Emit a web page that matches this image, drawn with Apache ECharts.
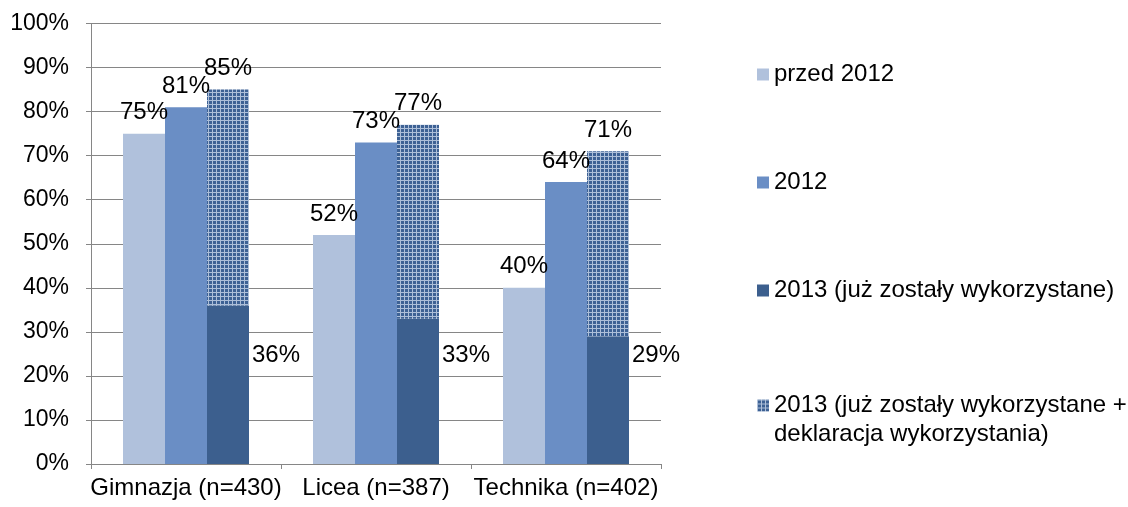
<!DOCTYPE html>
<html>
<head>
<meta charset="utf-8">
<script src="https://cdn.jsdelivr.net/npm/echarts@6/dist/echarts.min.js"></script>
<style>
html,body{margin:0;padding:0;background:#fff;}
#chart{width:1128px;height:507px;}
</style>
</head>
<body>
<div id="chart"></div>
<script>
const categories = ['Gimnazja (n=430)', 'Licea (n=387)', 'Technika (n=402)'];
const seriesNames = ['przed 2012', '2012', '2013 (już zostały wykorzystane)', '2013 (już zostały wykorzystane + deklaracja wykorzystania)'];
const before2012 = [75, 52, 40];
const year2012 = [81, 73, 64];
const used2013 = [36, 33, 29];
const total2013 = [85, 77, 71];

const FONT = '"Liberation Sans", Arial, sans-serif';
const LABEL_LEVEL = 24.7; // value level where the "used" labels sit

function makePattern() {
  const c = document.createElement('canvas');
  c.width = 4; c.height = 4;
  const g = c.getContext('2d');
  g.fillStyle = '#3D6194';
  g.fillRect(0, 0, 4, 4);
  g.fillStyle = '#ADBFD9';
  g.fillRect(0, 0, 4, 1);
  g.fillRect(0, 0, 1, 4);
  return c;
}
const pattern = { image: makePattern(), repeat: 'repeat' };

const chart = echarts.init(document.getElementById('chart'), null, { renderer: 'canvas' });

const topLabel = { show: true, position: 'top', distance: 9, color: '#000', fontSize: 24, fontFamily: FONT, formatter: p => p.value + '%' };

const option = {
  animation: false,
  textStyle: { fontFamily: FONT },
  grid: { left: 91, right: 467, top: 23.5, bottom: 43 },
  legend: [
    {
      orient: 'vertical', left: 757, top: 60, padding: 0, itemGap: 79,
      itemWidth: 12, itemHeight: 12, itemTextGap: 6, icon: 'rect', selectedMode: false,
      textStyle: { color: '#000', fontSize: 24, fontFamily: FONT, lineHeight: 29 },
      data: seriesNames.slice(0, 3)
    },
    {
      orient: 'vertical', left: 757, top: 362, padding: 0,
      itemWidth: 12, itemHeight: 12, itemTextGap: 6, icon: 'rect', selectedMode: false,
      textStyle: { color: '#000', fontSize: 24, fontFamily: FONT, lineHeight: 29 },
      formatter: () => ' \n2013 (już zostały wykorzystane +\ndeklaracja wykorzystania)',
      data: [seriesNames[3]]
    }
  ],
  xAxis: {
    type: 'category', data: categories,
    axisLine: { lineStyle: { color: '#868686', width: 1 } },
    axisTick: { show: true, length: 5, lineStyle: { color: '#868686' } },
    axisLabel: { color: '#000', fontSize: 24, fontFamily: FONT, margin: 12, interval: 0, hideOverlap: false },
    splitLine: { show: false }
  },
  yAxis: {
    type: 'value', min: 0, max: 100, interval: 10,
    axisLine: { show: true, lineStyle: { color: '#868686', width: 1 } },
    axisTick: { show: true, length: 5, lineStyle: { color: '#868686' } },
    axisLabel: { color: '#000', fontSize: 23, fontFamily: FONT, margin: 22, formatter: '{value}%' },
    splitLine: { show: true, lineStyle: { color: '#868686', width: 1 } }
  },
  series: [
    {
      name: seriesNames[0], type: 'bar', data: before2012, barWidth: 42, barGap: 0,
      itemStyle: { color: '#B0C1DC' }, label: topLabel
    },
    {
      name: seriesNames[1], type: 'bar', data: year2012, barWidth: 42, barGap: 0,
      itemStyle: { color: '#6A8EC5' }, label: topLabel
    },
    {
      name: seriesNames[2], type: 'bar', stack: 'y2013', barWidth: 42, barGap: 0,
      itemStyle: { color: '#3C5F8E' },
      data: used2013.map(v => ({
        value: v,
        label: {
          show: true, position: ['100%', ((v - LABEL_LEVEL) / v * 100) + '%'],
          align: 'left', verticalAlign: 'middle', offset: [3, 0],
          color: '#000', fontSize: 24, fontFamily: FONT, formatter: v + '%'
        }
      }))
    },
    {
      name: seriesNames[3], type: 'bar', stack: 'y2013', barWidth: 42, barGap: 0,
      itemStyle: { color: pattern },
      data: total2013.map((t, i) => t - used2013[i]),
      label: Object.assign({}, topLabel, { formatter: p => total2013[p.dataIndex] + '%' })
    }
  ]
};
chart.setOption(option);
</script>
</body>
</html>
